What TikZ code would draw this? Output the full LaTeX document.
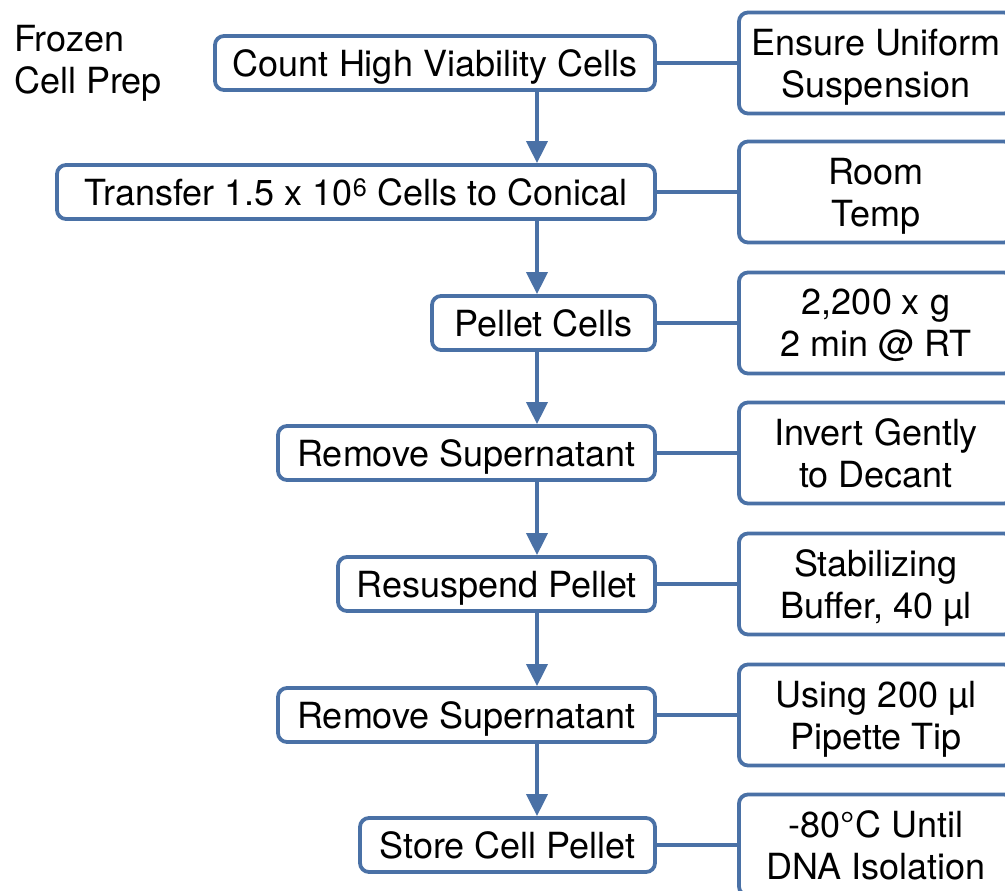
\documentclass[tikz,border=0pt]{standalone}
\usepackage{fontspec}
\setmainfont{TeX Gyre Heros}
\usetikzlibrary{arrows.meta}
\definecolor{lineblue}{RGB}{74,113,166}
\tikzset{
  stepbox/.style={draw=lineblue, line width=3.8pt, rounded corners=9pt, fill=white,
    minimum height=54pt, inner sep=0pt, text depth=0pt, font=\fontsize{36}{42}\selectfont, align=center},
  notebox/.style={draw=lineblue, line width=3.8pt, rounded corners=9pt, fill=white,
    minimum height=101pt, minimum width=274pt, inner sep=0pt, text depth=0pt, font=\fontsize{36}{42}\selectfont, align=center},
  flow/.style={draw=lineblue, line width=3.8pt, -{Triangle[width=21pt,length=22pt]}},
  link/.style={draw=lineblue, line width=3.8pt},
}
\begin{document}
\begin{tikzpicture}[x=1pt,y=-1pt]
\useasboundingbox (0,0) rectangle (1005,891);
\clip (0,0) rectangle (1005,891);
\node[anchor=north west, inner sep=0pt, align=left, font=\fontsize{36}{42}\selectfont] (title) at (14,25) {Frozen\\Cell Prep};

\node[stepbox, minimum width=440pt] (s1) at (435,63) {Count High Viability Cells};
\node[stepbox, minimum width=598pt] (s2) at (356,192) {Transfer 1.5 x 10\textsuperscript{6} Cells to Conical};
\node[stepbox, minimum width=223pt] (s3) at (543.5,323) {Pellet Cells};
\node[stepbox, minimum width=377pt] (s4) at (466.5,453) {Remove Supernatant};
\node[stepbox, minimum width=317pt] (s5) at (496.5,584) {Resuspend Pellet};
\node[stepbox, minimum width=377pt] (s6) at (466.5,715) {Remove Supernatant};
\node[stepbox, minimum width=295pt] (s7) at (507.5,845) {Store Cell Pellet};

\node[notebox] (n1) at (876,63) {Ensure Uniform\\Suspension};
\node[notebox] (n2) at (876,192) {Room\\Temp};
\node[notebox] (n3) at (876,323) {2,200 x g\\2 min @ RT};
\node[notebox] (n4) at (876,453) {Invert Gently\\to Decant};
\node[notebox] (n5) at (876,584) {Stabilizing\\Buffer, 40 µl};
\node[notebox] (n6) at (876,715) {Using 200 µl\\Pipette Tip};
\node[notebox] (n7) at (876,845) {-80°C Until\\DNA Isolation};

\coordinate (ax) at (537,0);
\foreach \a/\b in {s1/s2,s2/s3,s3/s4,s4/s5,s5/s6,s6/s7}{
  \draw[flow] (\a.south -| ax) -- (\b.north -| ax);
}
\foreach \i in {1,...,7}{
  \draw[link] (s\i.east) -- (n\i.west);
}
\end{tikzpicture}
\end{document}
